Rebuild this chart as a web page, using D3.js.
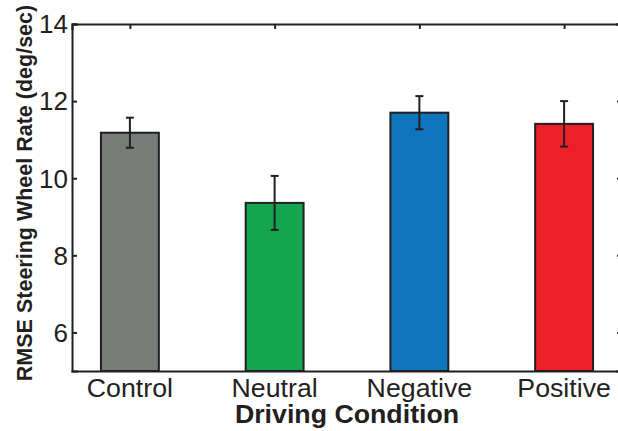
<!DOCTYPE html>
<html>
<head>
<meta charset="utf-8">
<script src="https://cdn.jsdelivr.net/npm/d3@7"></script>
<style>
  html, body { margin: 0; padding: 0; background: #fff; }
  svg { display: block; }
  text { font-family: "Liberation Sans", Arial, Helvetica, sans-serif; fill: #231f20; }
</style>
</head>
<body>
<svg id="chart" width="618" height="431"></svg>
<script>
// Mean RMSE of steering wheel rate per driving condition, with error bars
const categories = ["Control", "Neutral", "Negative", "Positive"];
const means = [11.18, 9.36, 11.70, 11.41];
const errors = [0.39, 0.70, 0.43, 0.59];
const colors = ["#777c79", "#13a54f", "#0f75bc", "#ed1f28"];
const yTicks = [6, 8, 10, 12, 14];

const svg = d3.select("#chart");
const ink = "#231f20";
const stretch = 1.07; // slightly wide lettering

const plotLeft = 72, plotRight = 622, plotTop = 24, plotBottom = 371;

const x = d3.scaleLinear().domain([0.6, 4.4]).range([plotLeft, plotRight]);
const y = d3.scaleLinear().domain([5, 14]).range([plotBottom, plotTop]);
const barW = x(1.4) - x(1);

const g = svg.append("g");

// bars
g.selectAll("rect.bar")
  .data(categories)
  .join("rect")
  .attr("class", "bar")
  .attr("x", (d, i) => x(i + 1) - barW / 2)
  .attr("width", barW)
  .attr("y", (d, i) => y(means[i]))
  .attr("height", (d, i) => y(5) - y(means[i]))
  .attr("fill", (d, i) => colors[i])
  .attr("stroke", ink)
  .attr("stroke-width", 2);

// error bars
const capW = 8;
const eb = g.selectAll("g.err")
  .data(categories)
  .join("g")
  .attr("class", "err")
  .attr("stroke", ink)
  .attr("stroke-width", 2);
eb.append("line")
  .attr("x1", (d, i) => x(i + 1)).attr("x2", (d, i) => x(i + 1))
  .attr("y1", (d, i) => y(means[i] + errors[i]))
  .attr("y2", (d, i) => y(means[i] - errors[i]));
eb.append("line")
  .attr("x1", (d, i) => x(i + 1) - capW / 2).attr("x2", (d, i) => x(i + 1) + capW / 2)
  .attr("y1", (d, i) => y(means[i] + errors[i]))
  .attr("y2", (d, i) => y(means[i] + errors[i]));
eb.append("line")
  .attr("x1", (d, i) => x(i + 1) - capW / 2).attr("x2", (d, i) => x(i + 1) + capW / 2)
  .attr("y1", (d, i) => y(means[i] - errors[i]))
  .attr("y2", (d, i) => y(means[i] - errors[i]));

// axes box with inward ticks
const tickLen = 5;
const leftAxis = d3.axisRight(y).tickValues(yTicks).tickSize(tickLen).tickFormat("");
const rightAxis = d3.axisLeft(y).tickValues(yTicks).tickSize(tickLen).tickFormat("");
const topAxis = d3.axisBottom(x).tickValues([1, 2, 3, 4]).tickSize(tickLen).tickFormat("");
const bottomAxis = d3.axisBottom(x).tickValues([]).tickSize(0).tickFormat("");

function styleAxis(sel) {
  sel.selectAll("path").attr("stroke", ink).attr("stroke-width", 2);
  sel.selectAll("line").attr("stroke", ink).attr("stroke-width", 2);
}
g.append("g").attr("transform", `translate(${plotLeft},0)`).call(leftAxis).call(styleAxis);
g.append("g").attr("transform", `translate(${plotRight},0)`).call(rightAxis).call(styleAxis);
g.append("g").attr("transform", `translate(0,${plotTop})`).call(topAxis).call(styleAxis);
g.append("g").attr("transform", `translate(0,${plotBottom})`).call(bottomAxis).call(styleAxis);
g.selectAll(".domain").attr("stroke-linecap", "square");

// y tick labels
g.selectAll("text.ytick")
  .data(yTicks)
  .join("text")
  .attr("class", "ytick")
  .attr("x", plotLeft - 4)
  .attr("y", d => y(d))
  .attr("dy", "0.36em")
  .attr("text-anchor", "end")
  .style("font-size", "26px")
  .text(d => d);

// category labels
g.selectAll("text.xtick")
  .data(categories)
  .join("text")
  .attr("class", "xtick")
  .attr("transform", (d, i) => `translate(${x(i + 1)},397) scale(${stretch},1)`)
  .attr("text-anchor", "middle")
  .style("font-size", "25px")
  .text(d => d);

// axis titles
svg.append("text")
  .attr("transform", `translate(${x(2.5)},423) scale(${stretch},1)`)
  .attr("text-anchor", "middle")
  .style("font-size", "25px")
  .style("font-weight", "bold")
  .text("Driving Condition");

svg.append("text")
  .attr("transform", `translate(32,193) rotate(-90)`)
  .attr("text-anchor", "middle")
  .style("font-size", "21.5px")
  .style("font-weight", "bold")
  .text("RMSE Steering Wheel Rate (deg/sec)");
</script>
</body>
</html>
